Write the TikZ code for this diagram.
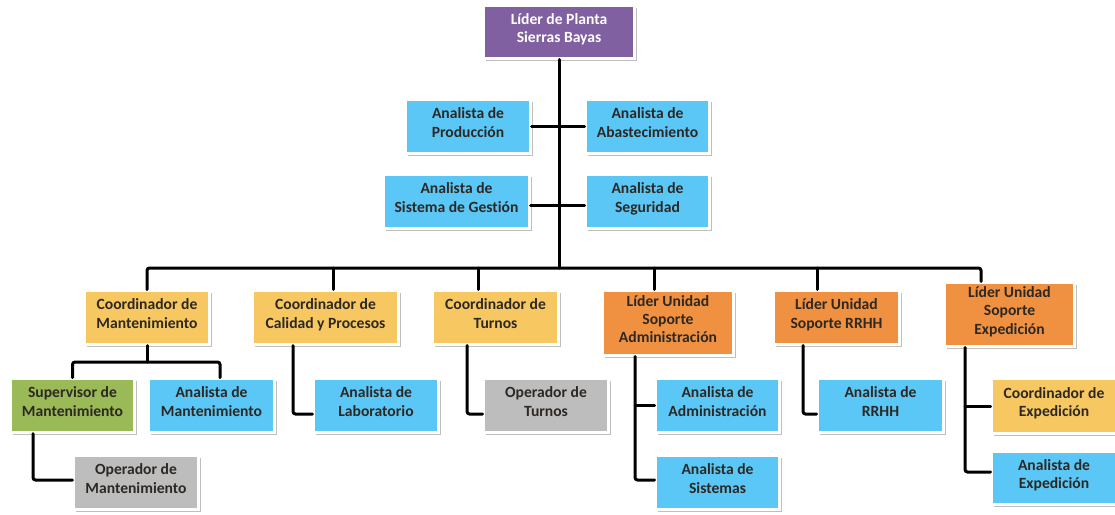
\documentclass[tikz,border=0pt]{standalone}
\usepackage{fontspec}
\setmainfont{Carlito}[Ligatures=NoCommon]
\usetikzlibrary{shadows}
\definecolor{cblue}{RGB}{91,199,246}
\definecolor{cyel}{RGB}{247,200,98}
\definecolor{corg}{RGB}{240,145,66}
\definecolor{cpur}{RGB}{128,96,160}
\definecolor{cgrn}{RGB}{153,186,86}
\definecolor{cgry}{RGB}{189,189,189}
\definecolor{ctxt}{RGB}{45,40,35}
\tikzset{
  box/.style 2 args={draw=white, line width=2.5pt, inner sep=0pt, align=center,
    minimum width={#1pt+2.5pt}, minimum height={#2pt+2.5pt}, text depth=8pt,
    font=\fontsize{15.6}{18.2}\selectfont\bfseries, text=ctxt,
    drop shadow={shadow xshift=2.5pt, shadow yshift=-2.5pt, fill=black!25, opacity=1}},
  bl/.style={fill=cblue},
  ye/.style={fill=cyel},
  og/.style={fill=corg},
  pu/.style={fill=cpur, text=white},
  gr/.style={fill=cgrn},
  gy/.style={fill=cgry},
  conn/.style={draw=black, line width=3pt, rounded corners=2.5pt, line cap=round}
}
\begin{document}
\begin{tikzpicture}[x=1pt,y=-1pt]
\useasboundingbox (0,0) rectangle (1115,514);
\coordinate (bus) at (559,268);
\coordinate (cmj) at (147,362);
% nodes
\node[box={148}{50},pu] (lider) at (559,32) {Líder de Planta\\Sierras Bayas};
\node[box={122}{51},bl] (prod) at (468,126.5) {Analista de\\Producción};
\node[box={121}{51},bl] (abas) at (647.5,126.5) {Analista de\\Abastecimiento};
\node[box={143}{51},bl] (gest) at (456.5,201.5) {Analista de\\Sistema de Gestión};
\node[box={121}{51},bl] (seg) at (647.5,201.5) {Analista de\\Seguridad};
\node[box={122}{51},ye] (cm) at (147,317.5) {Coordinador de\\Mantenimiento};
\node[box={143}{51},ye] (cc) at (325.5,317.5) {Coordinador de\\Calidad y Procesos};
\node[box={123}{51},ye] (ct) at (495.5,317.5) {Coordinador de\\Turnos};
\node[box={128}{62},og] (la) at (668,323) {Líder Unidad\\Soporte\\Administración};
\node[box={123}{51},og] (lr) at (836.5,317.5) {Líder Unidad\\Soporte RRHH};
\node[box={127}{61},og] (le) at (1009.5,314.5) {Líder Unidad\\Soporte\\Expedición};
\node[box={121}{51},gr] (sm) at (72.5,405.5) {Supervisor de\\Mantenimiento};
\node[box={123}{51},bl] (am) at (211.5,405.5) {Analista de\\Mantenimiento};
\node[box={122}{51},gy] (om) at (136,482.5) {Operador de\\Mantenimiento};
\node[box={122}{51},bl] (al) at (376,405.5) {Analista de\\Laboratorio};
\node[box={122}{51},gy] (ot) at (546,405.5) {Operador de\\Turnos};
\node[box={121}{51},bl] (aa) at (717.5,405.5) {Analista de\\Administración};
\node[box={121}{51},bl] (as) at (717.5,482.5) {Analista de\\Sistemas};
\node[box={123}{51},bl] (ar) at (880.5,405.5) {Analista de\\RRHH};
\node[box={122}{52},ye] (ce) at (1054,406) {Coordinador de\\Expedición};
\node[box={122}{50},bl] (ae) at (1054,478) {Analista de\\Expedición};
% upper connectors
\draw[conn] (lider.south) -- (lider.south |- bus);
\draw[conn] (prod.east) -- (abas.west);
\draw[conn] ([yshift=-4pt]gest.east) -- ([yshift=-4pt]seg.west);
\draw[conn] (cm.north) |- (bus) -| ([xshift=-28.5pt]le.north);
\draw[conn] ([xshift=7.5pt]cc.north) -- ([xshift=7.5pt]cc.north |- bus);
\draw[conn] ([xshift=-17.5pt]ct.north) -- ([xshift=-17.5pt]ct.north |- bus);
\draw[conn] ([xshift=-14pt]la.north) -- ([xshift=-14pt]la.north |- bus);
\draw[conn] ([xshift=-19.5pt]lr.north) -- ([xshift=-19.5pt]lr.north |- bus);
% lower connectors
\draw[conn] (cm.south) -- (cmj);
\draw[conn] (sm.north) |- (cmj) -| ([xshift=8.5pt]am.north);
\draw[conn] ([xshift=-39.5pt]sm.south) |- ([yshift=2.5pt]om.west);
\draw[conn] ([xshift=-32.5pt]cc.south) |- ([yshift=-8.5pt]al.west);
\draw[conn] ([xshift=-28.5pt]ct.south) |- ([yshift=-8.5pt]ot.west);
\draw[conn] ([xshift=-33pt]la.south) |- ([yshift=2.5pt]as.west);
\draw[conn] ([xshift=-33pt]la.south |- aa.west) -- (aa.west);
\draw[conn] ([xshift=-33.5pt]lr.south) |- ([yshift=-8.5pt]ar.west);
\draw[conn] ([xshift=-44.5pt]le.south) |- ([yshift=6pt]ae.west);
\draw[conn] ([xshift=-44.5pt]le.south |- ce.west) -- (ce.west);
\end{tikzpicture}
\end{document}
